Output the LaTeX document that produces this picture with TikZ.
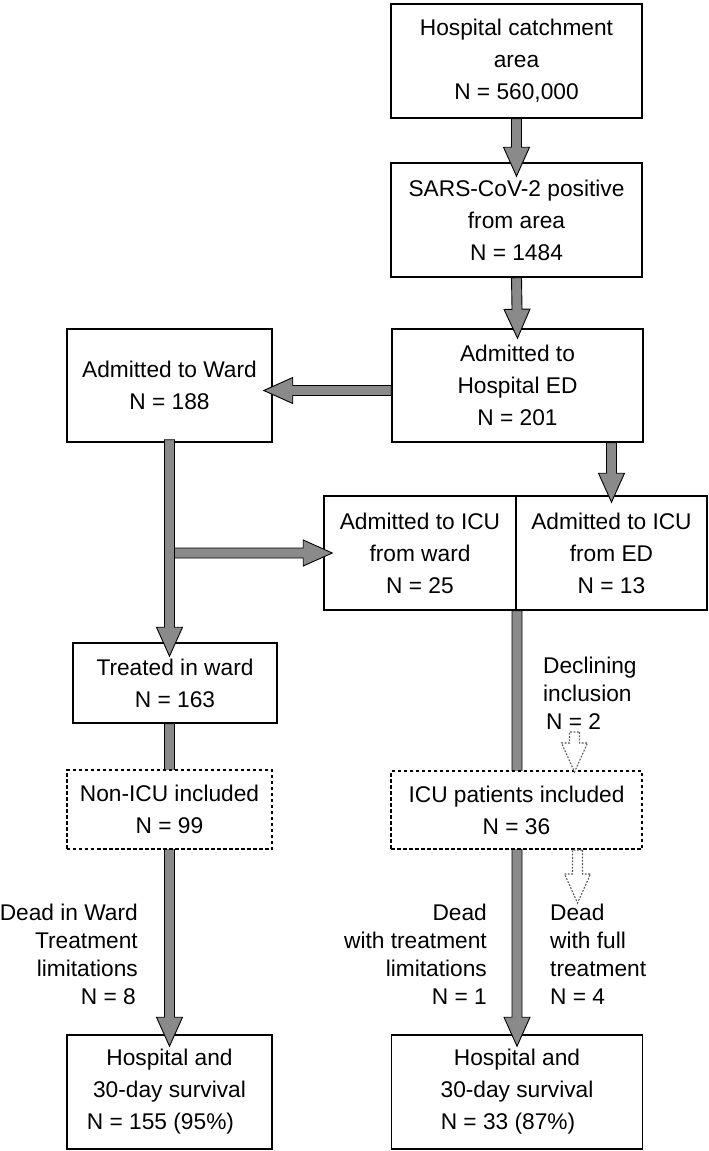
\documentclass[tikz,border=0pt]{standalone}
\usepackage{fontspec}
\setmainfont{Liberation Sans}
\usetikzlibrary{calc}

\definecolor{arrowgray}{RGB}{138,138,138}

\tikzset{
  box/.style={draw, line width=1.5bp, fill=white, inner sep=0pt, align=center,
    font=\fontsize{22.8}{32.1}\selectfont},
  dotbox/.style={box, dash pattern=on 3.5bp off 2.5bp, line width=2bp},
  lbl/.style={inner sep=0pt, font=\fontsize{22.8}{28.1}\selectfont},
  fatfill/.style={draw=black, line width=0.9bp, fill=arrowgray, line join=miter},
  dotfill/.style={draw=black!65, line width=1.1bp,
    dash pattern=on 1.8bp off 1.5bp, fill=white},
}

% block arrow from #2 to #3
\newcommand{\fatarrow}[3][fatfill]{%
  \coordinate (fa-s) at #2;
  \coordinate (fa-e) at #3;
  \coordinate (fa-b) at ($(fa-e)!29bp!(fa-s)$);
  \draw[#1] ($(fa-s)!5bp!90:(fa-e)$) -- ($(fa-b)!5bp!-90:(fa-s)$)
    -- ($(fa-b)!13bp!-90:(fa-s)$) -- (fa-e) -- ($(fa-b)!13bp!90:(fa-s)$)
    -- ($(fa-b)!5bp!90:(fa-s)$) -- ($(fa-s)!5bp!-90:(fa-e)$) -- cycle;}

\begin{document}
\begin{tikzpicture}[x=1bp, y=-1bp]
\useasboundingbox (0,0) rectangle (709,1151);

% Draw the solid boxes
\node[box, minimum width=251bp, minimum height=114bp] (catch) at (516.5,61) {Hospital catchment\\area\\N = 560,000};
\node[box, minimum width=251bp, minimum height=114bp] (sars) at (516.5,220) {SARS-CoV-2 positive\\from area\\N = 1484};
\node[box, minimum width=251bp, minimum height=113bp] (ed) at (517.5,385.5) {Admitted to\\Hospital ED\\N = 201};
\node[box, minimum width=205bp, minimum height=113bp] (ward) at (169.5,385.5) {Admitted to Ward\\N = 188};
\node[box, minimum width=192bp, minimum height=114bp] (icuw) at (420,553) {Admitted to ICU\\from ward\\N = 25};
\node[box, minimum width=191bp, minimum height=114bp] (icue) at (611.5,553) {Admitted to ICU\\from ED\\N = 13};
\node[box, minimum width=204bp, minimum height=80bp] (treat) at (175,683) {Treated in ward\\N = 163};
\node[box, minimum width=205bp, minimum height=114bp] (survw) at (169.5,1092) {Hospital and\\30-day survival\\N = 155 (95\%)\kern18bp};
\node[box, minimum width=251bp, minimum height=114bp] (surve) at (517,1092) {Hospital and\\30-day survival\\N = 33 (87\%)\kern18bp};

% Draw the block arrows
\fatarrow{(catch.south)}{($(sars.north)+(0,14)$)}
\fatarrow{(sars.south)}{($(ed.north)+(0,10)$)}
\fatarrow{($(ed.west)+(0,5)$)}{($(ward.east)+(-9,5)$)}
\fatarrow{(icue.north |- ed.south)}{($(icue.north)+(0,7)$)}
\fatarrow{(ward.south |- icuw.west)}{($(icuw.west)+(9,0)$)}
\fatarrow{($(ward.south)+(0,-3)$)}{($(ward.south |- treat.north)+(0,14)$)}
\fatarrow{(survw.north |- treat.south)}{($(survw.north)+(0,12)$)}
\fatarrow{(surve.north |- icuw.south)}{($(surve.north)+(0,12)$)}

% Dotted boxes on top of the long arrows
\node[dotbox, minimum width=205bp, minimum height=79bp] (nonicu) at (169.5,809.5) {Non-ICU included\\N = 99};
\node[dotbox, minimum width=251bp, minimum height=78bp] (icuinc) at (516.5,810) {ICU patients included\\N = 36};

% Dotted arrows
\coordinate (declend) at ($(icuinc.north)+(58,-38)$);
\fatarrow[dotfill]{(declend)}{($(icuinc.north)+(58,2)$)}
\coordinate (fullend) at ($(icuinc.south)+(61,53)$);
\fatarrow[dotfill]{($(icuinc.south)+(61,0)$)}{(fullend)}

% Labels
\node[lbl, align=left, anchor=north west] (decl) at (543,657) {Declining\\inclusion\\\hspace*{3bp}N = 2};
\node[lbl, align=right, anchor=north east] (deadw) at (138,904) {Dead in Ward\\Treatment\\limitations\\N = 8\kern2bp};
\node[lbl, align=right, anchor=north east] (deadl) at (487,904) {Dead\\with treatment\\limitations\\N = 1};
\node[lbl, align=left, anchor=north west] (deadf) at (550,904) {Dead\\with full\\treatment\\N = 4};
\end{tikzpicture}
\end{document}
